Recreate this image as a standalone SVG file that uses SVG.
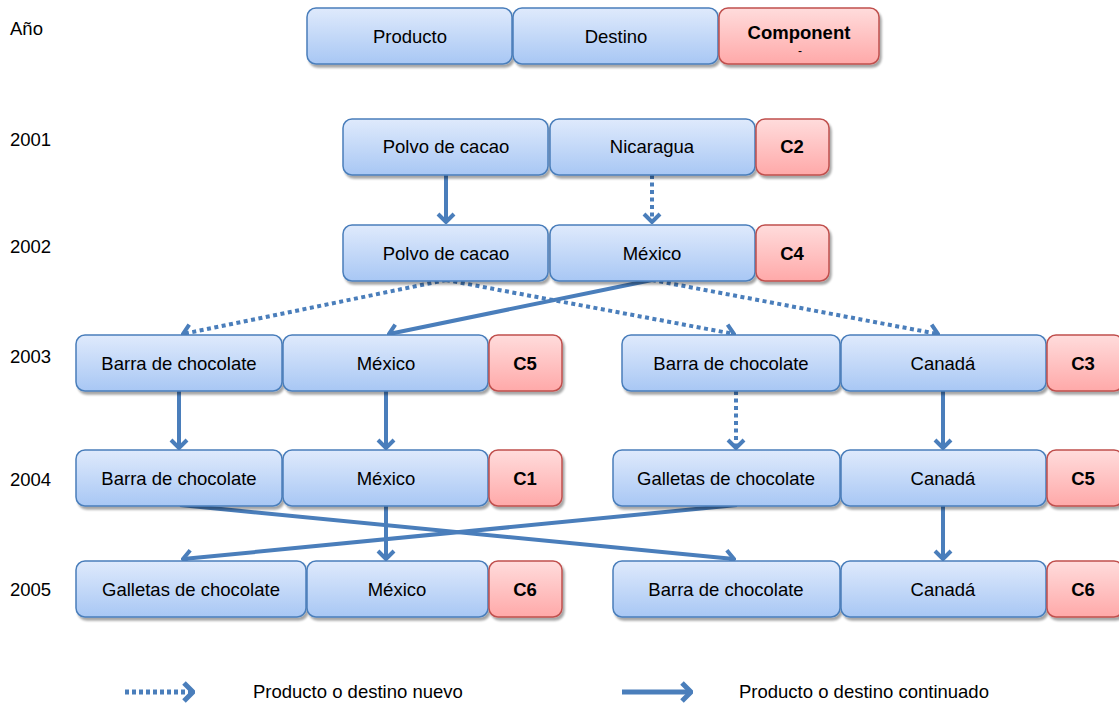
<svg xmlns="http://www.w3.org/2000/svg" width="1119" height="704" viewBox="0 0 1119 704">
  <defs>
    <linearGradient id="gBlue" x1="0" y1="0" x2="0" y2="1">
      <stop offset="0" stop-color="#dfeafc"/>
      <stop offset="1" stop-color="#a8c7f4"/>
    </linearGradient>
    <linearGradient id="gRed" x1="0" y1="0" x2="0" y2="1">
      <stop offset="0" stop-color="#ffdcdc"/>
      <stop offset="1" stop-color="#ffa9a9"/>
    </linearGradient>
    <filter id="shadow" x="-10%" y="-20%" width="125%" height="150%">
      <feDropShadow dx="2" dy="3" stdDeviation="1.2" flood-color="#000" flood-opacity="0.35"/>
    </filter>
    <marker id="head" markerUnits="userSpaceOnUse" viewBox="-12 -10 14 20" refX="0" refY="0" markerWidth="14" markerHeight="20" orient="auto">
      <path d="M-8,-8 L0,0 L-8,8" fill="none" stroke="#4a7ebb" stroke-width="4"/>
    </marker>
    <marker id="headBig" markerUnits="userSpaceOnUse" viewBox="-14 -12 16 24" refX="0" refY="0" markerWidth="16" markerHeight="24" orient="auto">
      <path d="M-9,-9 L0,0 L-9,9" fill="none" stroke="#4a7ebb" stroke-width="5"/>
    </marker>
  </defs>
  <style>
    .b { fill: url(#gBlue); stroke: #4a7ebb; stroke-width: 1.5; filter: url(#shadow); }
    .r { fill: url(#gRed); stroke: #c0504d; stroke-width: 1.5; filter: url(#shadow); }
    text { font-family: "Liberation Sans", Arial, sans-serif; font-size: 18.5px; fill: #000; }
    .c { text-anchor: middle; }
    .bold { font-weight: bold; }
    .solid { fill: none; stroke: #4a7ebb; stroke-width: 4; marker-end: url(#head); }
    .dot { fill: none; stroke: #4a7ebb; stroke-width: 4; stroke-dasharray: 4 3.5; marker-end: url(#head); }
  </style>

  <!-- year column -->
  <g id="years">
    <text x="10" y="35">Año</text>
    <text x="10" y="146">2001</text>
    <text x="10" y="253">2002</text>
    <text x="10" y="363">2003</text>
    <text x="10" y="486">2004</text>
    <text x="10" y="596">2005</text>
  </g>

  <!-- connectors -->
  <g id="connectors">
    <!-- 2001 -> 2002 -->
    <path class="solid" d="M446,175 L446,222"/>
    <path class="dot" d="M652,175 L652,222"/>
    <!-- 2002 -> 2003 -->
    <path class="dot" d="M446,280 L183,334"/>
    <path class="dot" d="M446,280 L734,334"/>
    <path class="solid" d="M652,280 L389,334"/>
    <path class="dot" d="M652,280 L938,334"/>
    <!-- 2003 -> 2004 -->
    <path class="solid" d="M179,391 L179,448"/>
    <path class="solid" d="M386,391 L386,448"/>
    <path class="dot" d="M736,391 L736,448"/>
    <path class="solid" d="M943,391 L943,448"/>
    <!-- 2004 -> 2005 -->
    <path class="solid" d="M180,505 L734,559"/>
    <path class="solid" d="M386,505 L386,559"/>
    <path class="solid" d="M737,505 L183,559"/>
    <path class="solid" d="M943,505 L943,559"/>
  </g>

  <!-- header -->
  <g id="hdr-producto"><rect class="b" x="307" y="8" width="205" height="56" rx="9"/><text class="c" x="410" y="43">Producto</text></g>
  <g id="hdr-destino"><rect class="b" x="513" y="8" width="205" height="56" rx="9"/><text class="c" x="616" y="43">Destino</text></g>
  <g id="hdr-component"><rect class="r" x="719" y="8" width="160" height="56" rx="9"/><text class="c bold" x="799" y="39">Component</text><text class="c" x="800" y="55" style="font-size:12px">-</text></g>

  <!-- 2001 -->
  <g id="n2001-prod"><rect class="b" x="343" y="119" width="205" height="56" rx="9"/><text class="c" x="446" y="153">Polvo de cacao</text></g>
  <g id="n2001-dest"><rect class="b" x="550" y="119" width="205" height="56" rx="9"/><text class="c" x="652" y="153">Nicaragua</text></g>
  <g id="n2001-comp"><rect class="r" x="756" y="119" width="73" height="56" rx="9"/><text class="c bold" x="792" y="153">C2</text></g>

  <!-- 2002 -->
  <g id="n2002-prod"><rect class="b" x="343" y="225" width="205" height="56" rx="9"/><text class="c" x="446" y="260">Polvo de cacao</text></g>
  <g id="n2002-dest"><rect class="b" x="550" y="225" width="205" height="56" rx="9"/><text class="c" x="652" y="260">México</text></g>
  <g id="n2002-comp"><rect class="r" x="756" y="225" width="73" height="56" rx="9"/><text class="c bold" x="792" y="260">C4</text></g>

  <!-- 2003 -->
  <g id="n2003a-prod"><rect class="b" x="76" y="335" width="206" height="56" rx="9"/><text class="c" x="179" y="370">Barra de chocolate</text></g>
  <g id="n2003a-dest"><rect class="b" x="283" y="335" width="205" height="56" rx="9"/><text class="c" x="386" y="370">México</text></g>
  <g id="n2003a-comp"><rect class="r" x="489" y="335" width="73" height="56" rx="9"/><text class="c bold" x="525" y="370">C5</text></g>
  <g id="n2003b-prod"><rect class="b" x="622" y="335" width="218" height="56" rx="9"/><text class="c" x="731" y="370">Barra de chocolate</text></g>
  <g id="n2003b-dest"><rect class="b" x="841" y="335" width="205" height="56" rx="9"/><text class="c" x="943" y="370">Canadá</text></g>
  <g id="n2003b-comp"><rect class="r" x="1047" y="335" width="76" height="56" rx="9"/><text class="c bold" x="1083" y="370">C3</text></g>

  <!-- 2004 -->
  <g id="n2004a-prod"><rect class="b" x="76" y="450" width="206" height="56" rx="9"/><text class="c" x="179" y="485">Barra de chocolate</text></g>
  <g id="n2004a-dest"><rect class="b" x="283" y="450" width="205" height="56" rx="9"/><text class="c" x="386" y="485">México</text></g>
  <g id="n2004a-comp"><rect class="r" x="489" y="450" width="73" height="56" rx="9"/><text class="c bold" x="525" y="485">C1</text></g>
  <g id="n2004b-prod"><rect class="b" x="613" y="450" width="227" height="56" rx="9"/><text class="c" x="726" y="485">Galletas de chocolate</text></g>
  <g id="n2004b-dest"><rect class="b" x="841" y="450" width="205" height="56" rx="9"/><text class="c" x="943" y="485">Canadá</text></g>
  <g id="n2004b-comp"><rect class="r" x="1047" y="450" width="76" height="56" rx="9"/><text class="c bold" x="1083" y="485">C5</text></g>

  <!-- 2005 -->
  <g id="n2005a-prod"><rect class="b" x="76" y="561" width="230" height="56" rx="9"/><text class="c" x="191" y="596">Galletas de chocolate</text></g>
  <g id="n2005a-dest"><rect class="b" x="307" y="561" width="181" height="56" rx="9"/><text class="c" x="397" y="596">México</text></g>
  <g id="n2005a-comp"><rect class="r" x="489" y="561" width="73" height="56" rx="9"/><text class="c bold" x="525" y="596">C6</text></g>
  <g id="n2005b-prod"><rect class="b" x="613" y="561" width="227" height="56" rx="9"/><text class="c" x="726" y="596">Barra de chocolate</text></g>
  <g id="n2005b-dest"><rect class="b" x="841" y="561" width="205" height="56" rx="9"/><text class="c" x="943" y="596">Canadá</text></g>
  <g id="n2005b-comp"><rect class="r" x="1047" y="561" width="76" height="56" rx="9"/><text class="c bold" x="1083" y="596">C6</text></g>

  <!-- legend -->
  <g id="legend">
    <path d="M125,692 L193,692" fill="none" stroke="#4a7ebb" stroke-width="5" stroke-dasharray="4 3" marker-end="url(#headBig)"/>
    <text x="253" y="698">Producto o destino nuevo</text>
    <path d="M622,692 L691,692" fill="none" stroke="#4a7ebb" stroke-width="5" marker-end="url(#headBig)"/>
    <text x="739" y="698">Producto o destino continuado</text>
  </g>
</svg>
